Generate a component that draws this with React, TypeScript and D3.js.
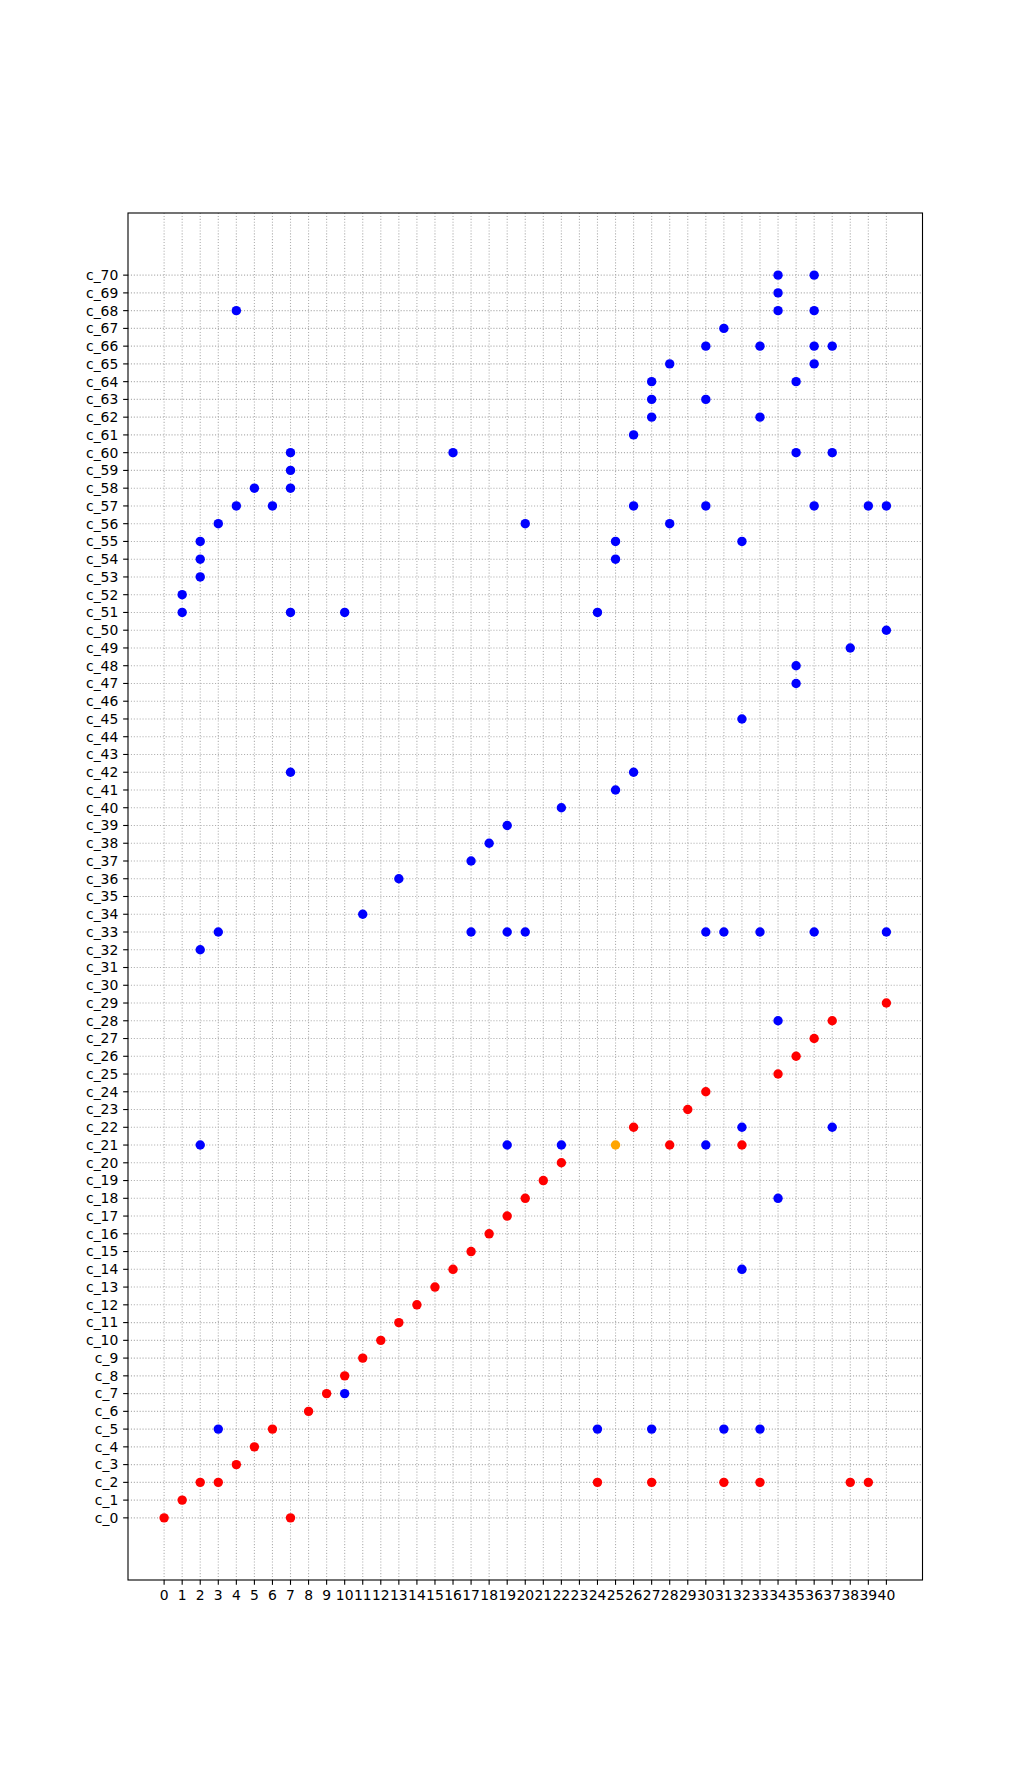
import * as d3 from "d3";

const categories = Array.from({ length: 71 }, (_, i) => `c_${i}`);
const xTicks = d3.range(0, 41);

// blue points: x value and category index
const blueX = [
  34, 36, 34, 4, 34, 36, 31, 30, 33, 36, 37, 28, 36, 27, 35, 27, 30, 27, 33, 26,
  7, 16, 35, 37, 7, 5, 7, 4, 6, 26, 30, 36, 39, 40, 3, 20, 28, 2, 25, 32, 2, 25,
  2, 1, 1, 7, 10, 24, 40, 38, 35, 35, 32, 7, 26, 25, 22, 19, 18, 17, 13, 11,
  3, 17, 19, 20, 30, 31, 33, 36, 40, 2, 34, 32, 37, 2, 19, 22, 30, 34, 32, 10,
  3, 24, 27, 31, 33,
];
const blueY = [
  70, 70, 69, 68, 68, 68, 67, 66, 66, 66, 66, 65, 65, 64, 64, 63, 63, 62, 62, 61,
  60, 60, 60, 60, 59, 58, 58, 57, 57, 57, 57, 57, 57, 57, 56, 56, 56, 55, 55, 55, 54, 54,
  53, 52, 51, 51, 51, 51, 50, 49, 48, 47, 45, 42, 42, 41, 40, 39, 38, 37, 36, 34,
  33, 33, 33, 33, 33, 33, 33, 33, 33, 32, 28, 22, 22, 21, 21, 21, 21, 18, 14, 7,
  5, 5, 5, 5, 5,
];

// red points
const redX = [
  40, 37, 36, 35, 34, 30, 29, 26, 28, 32, 22, 21, 20, 19, 18, 17, 16, 15, 14, 13,
  12, 11, 10, 9, 8, 6, 5, 4, 2, 3, 24, 27, 31, 33, 38, 39, 1, 0, 7,
];
const redY = [
  29, 28, 27, 26, 25, 24, 23, 22, 21, 21, 20, 19, 18, 17, 16, 15, 14, 13, 12, 11,
  10, 9, 8, 7, 6, 5, 4, 3, 2, 2, 2, 2, 2, 2, 2, 2, 1, 0, 0,
];

// orange point
const orangeX = [25];
const orangeY = [21];

const series = [
  { xs: blueX, ys: blueY, color: "#0000ff" },
  { xs: redX, ys: redY, color: "#ff0000" },
  { xs: orangeX, ys: orangeY, color: "#ffa500" },
];

const width = 1025;
const height = 1775;
const margin = { top: 213, right: 102.5, bottom: 195, left: 128 };
const innerWidth = width - margin.left - margin.right;
const innerHeight = height - margin.top - margin.bottom;

export default function App() {
  const x = d3.scaleLinear().domain([-2, 42]).range([0, innerWidth]);
  const y = d3
    .scalePoint<string>()
    .domain(categories)
    .range([innerHeight, 0])
    .padding(3.5);

  const font = "'DejaVu Sans', sans-serif";
  const tickLen = 4.86;
  const pad = 4.86;

  return (
    <svg
      width={width}
      height={height}
      style={{ position: "absolute", left: 0, top: 0, background: "#fff" }}
    >
      <rect width={width} height={height} fill="#fff" />
      <g transform={`translate(${margin.left},${margin.top})`}>
        {/* grid */}
        {xTicks.map((t) => (
          <line
            key={`gx${t}`}
            x1={x(t)}
            x2={x(t)}
            y1={0}
            y2={innerHeight}
            stroke="#b0b0b0"
            strokeWidth={1.1}
            strokeDasharray="1.1,1.8"
          />
        ))}
        {categories.map((c) => (
          <line
            key={`gy${c}`}
            x1={0}
            x2={innerWidth}
            y1={y(c)}
            y2={y(c)}
            stroke="#b0b0b0"
            strokeWidth={1.1}
            strokeDasharray="1.1,1.8"
          />
        ))}

        {/* points */}
        {series.map((s, si) =>
          s.xs.map((v, i) => (
            <circle
              key={`p${si}-${i}`}
              cx={x(v)}
              cy={y(categories[s.ys[i]])}
              r={4.7}
              fill={s.color}
            />
          ))
        )}

        {/* frame */}
        <rect
          x={0}
          y={0}
          width={innerWidth}
          height={innerHeight}
          fill="none"
          stroke="#000"
          strokeWidth={1.1}
        />

        {/* x axis */}
        {xTicks.map((t) => (
          <g key={`tx${t}`} transform={`translate(${x(t)},${innerHeight})`}>
            <line y1={0} y2={tickLen} stroke="#000" strokeWidth={1.1} />
            <text
              y={tickLen + pad + 10.6}
              textAnchor="middle"
              fontFamily={font}
              fontSize={13.9}
              fill="#000"
            >
              {t}
            </text>
          </g>
        ))}

        {/* y axis */}
        {categories.map((c) => (
          <g key={`ty${c}`} transform={`translate(0,${y(c)})`}>
            <line x1={-tickLen} x2={0} stroke="#000" strokeWidth={1.1} />
            <text
              x={-tickLen - pad}
              dy="0.35em"
              textAnchor="end"
              fontFamily={font}
              fontSize={13.9}
              fill="#000"
            >
              {c}
            </text>
          </g>
        ))}
      </g>
    </svg>
  );
}
